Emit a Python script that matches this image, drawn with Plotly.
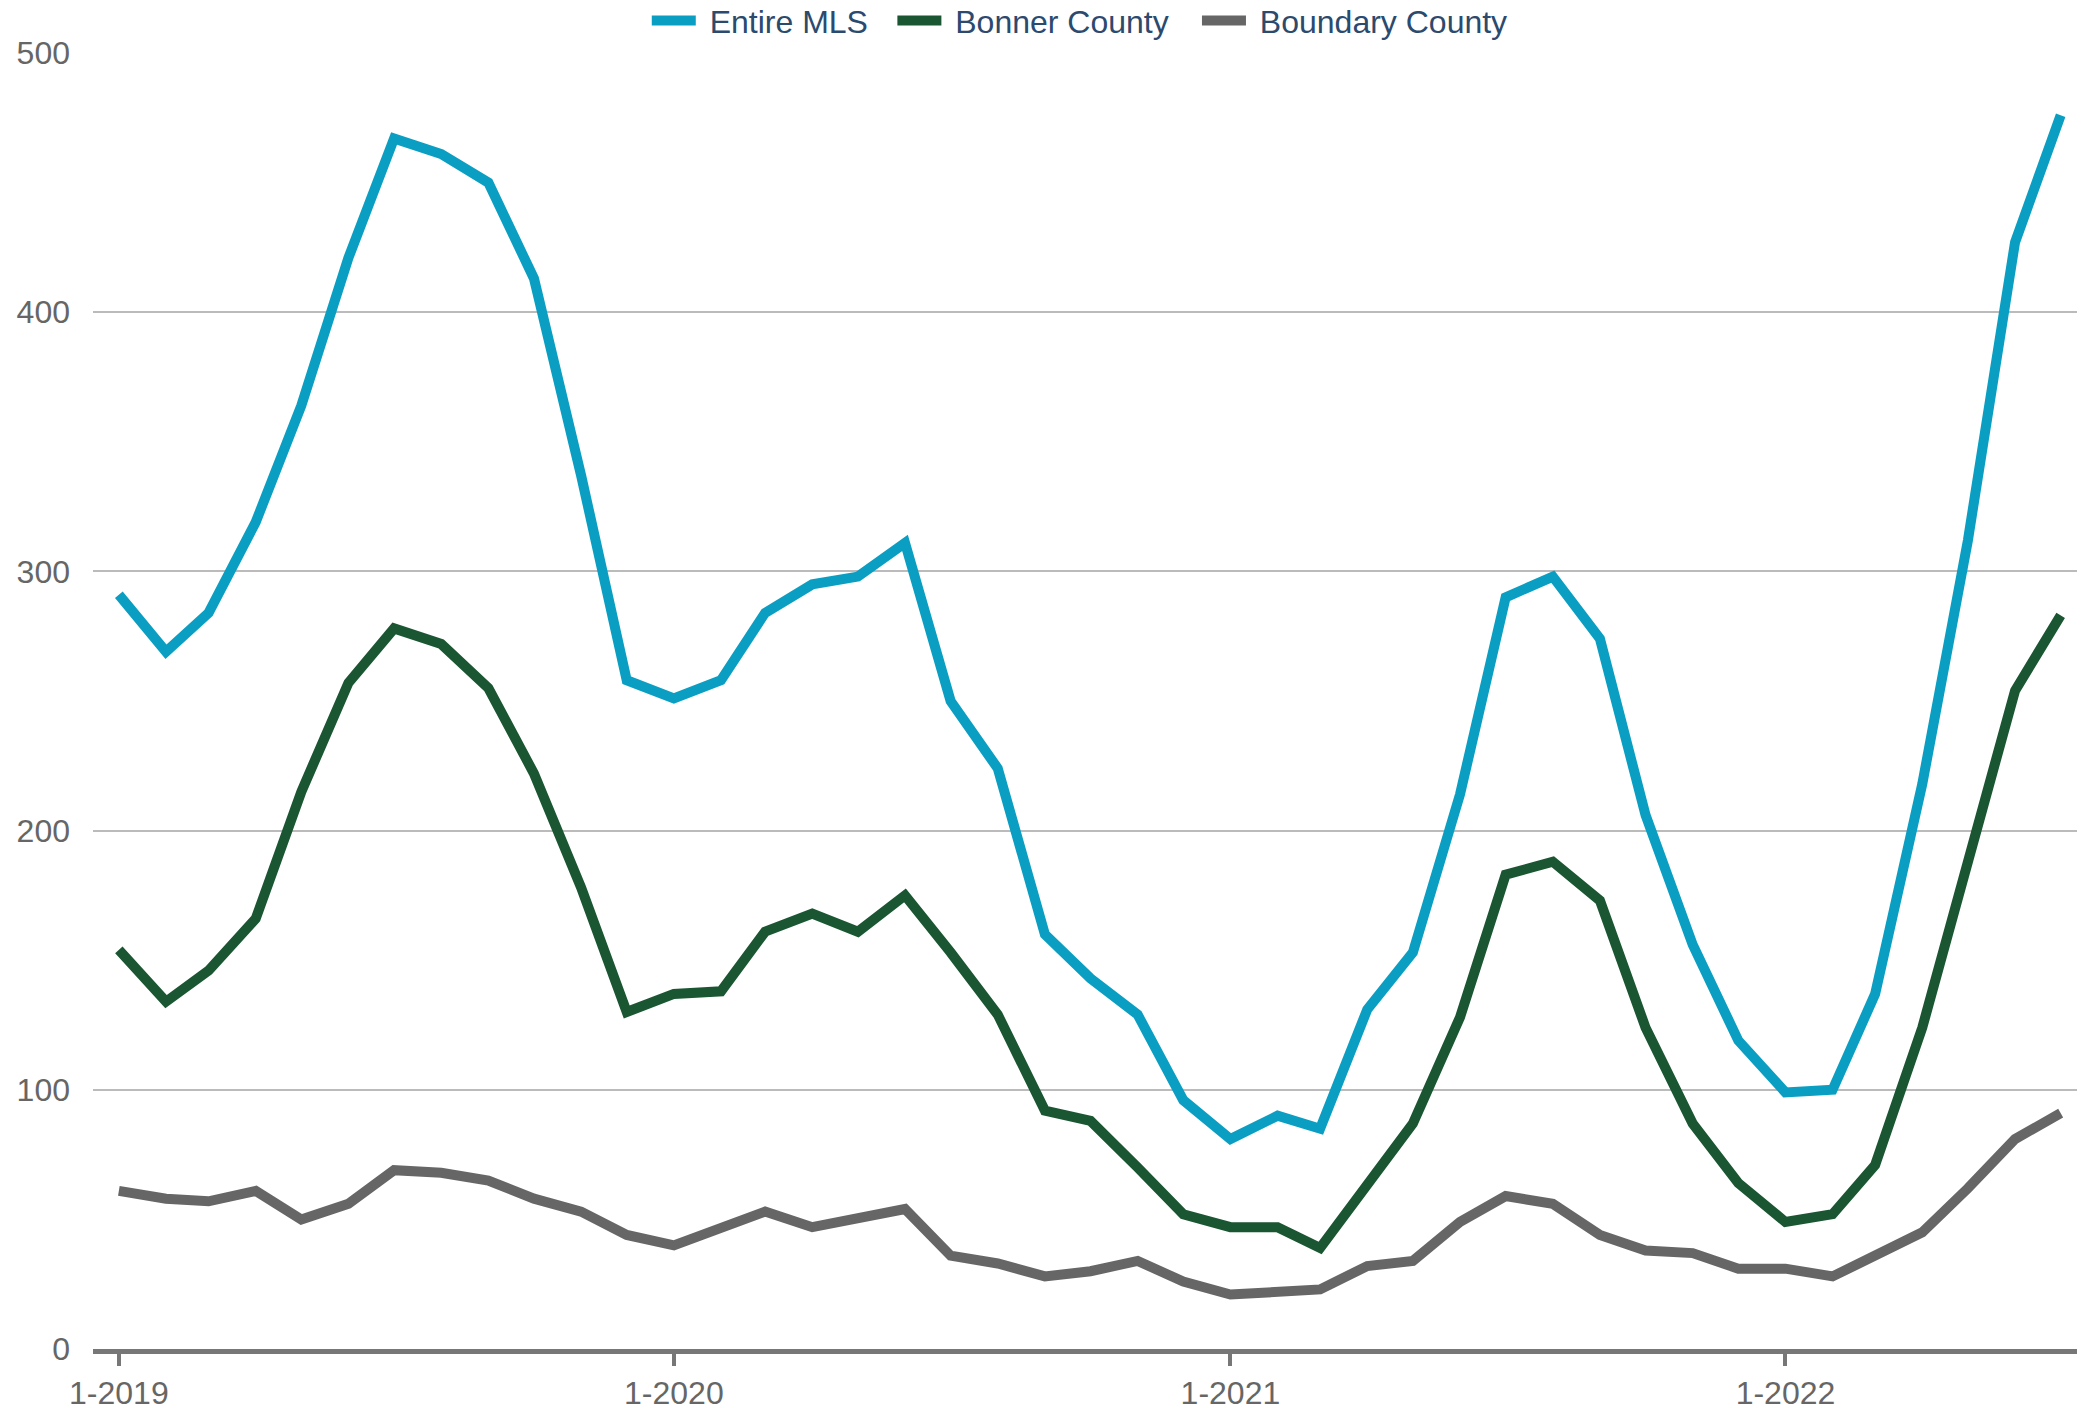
import plotly.graph_objects as go

months = [f"{y}-{m:02d}-01" for y in range(2019, 2023) for m in range(1, 13)][:43]

entire_mls = [291, 269, 284, 319, 364, 421, 467, 461, 450, 413, 337, 258,
              251, 258, 284, 295, 298, 311, 250, 224, 160, 143, 129, 96,
              81, 90, 85, 131, 153, 214, 290, 298, 274, 206, 156, 119,
              99, 100, 137, 218, 312, 427, 476]
bonner = [154, 134, 146, 166, 215, 257, 278, 272, 255, 222, 178, 130,
          137, 138, 161, 168, 161, 175, 153, 129, 92, 88, 70, 52,
          47, 47, 39, 64, 87, 128, 183, 188, 173, 124, 87, 64,
          49, 52, 71, 124, 189, 254, 283]
boundary = [61, 58, 57, 61, 50, 56, 69, 68, 65, 58, 53, 44,
            40, 47, 53, 47, 50, 54, 36, 33, 28, 30, 34, 26,
            21, 22, 23, 32, 34, 49, 59, 56, 44, 38, 37, 31,
            31, 28, 36, 45, 62, 81, 91]

tick_vals = ["2019-01-01", "2020-01-01", "2021-01-01", "2022-01-01"]
tick_text = ["1-2019", "1-2020", "1-2021", "1-2022"]
y_ticks = [0, 100, 200, 300, 400, 500]

series = [("Entire MLS", entire_mls, "#0a9fc2", "legend", 0.278),
          ("Bonner County", bonner, "#1a5632", "legend2", 0.4013),
          ("Boundary County", boundary, "#666666", "legend3", 0.5542)]

fig = go.Figure()
legends = {}
for name, vals, color, lg, lx in series:
    fig.add_trace(go.Scatter(x=months, y=vals, name="\u00a0" + name, mode="lines",
                             legend=lg, line=dict(color=color, width=10)))
    legends[lg] = dict(orientation="h", x=lx, xanchor="left", y=1.0250, yanchor="middle",
                       font=dict(size=32, color="#2b4a6e"), bgcolor="rgba(0,0,0,0)",
                       itemwidth=44)

fig.update_layout(
    width=2085, height=1408,
    margin=dict(l=85, r=8, t=45, b=67, autoexpand=False),
    paper_bgcolor="white", plot_bgcolor="white",
    font=dict(family="Liberation Sans, Arial, sans-serif", size=32, color="#666666"),
    showlegend=True,
    **legends,
)
fig.update_xaxes(
    range=["2018-12-15", "2022-07-17"],
    tickvals=tick_vals, ticktext=tick_text,
    showgrid=False, zeroline=False,
    showline=True, linecolor="#777777", linewidth=5,
    ticks="outside", ticklen=12, tickwidth=4, tickcolor="#777777",
    tickfont=dict(size=32, color="#666666"),
)
fig.update_yaxes(
    range=[0, 500], tickvals=y_ticks,
    showgrid=True, gridcolor="#bbbbbb", gridwidth=2,
    zeroline=False, showline=False, ticks="",
    ticklabelstandoff=22,
    tickfont=dict(size=32, color="#666666"),
)

fig.write_html("out.html")
